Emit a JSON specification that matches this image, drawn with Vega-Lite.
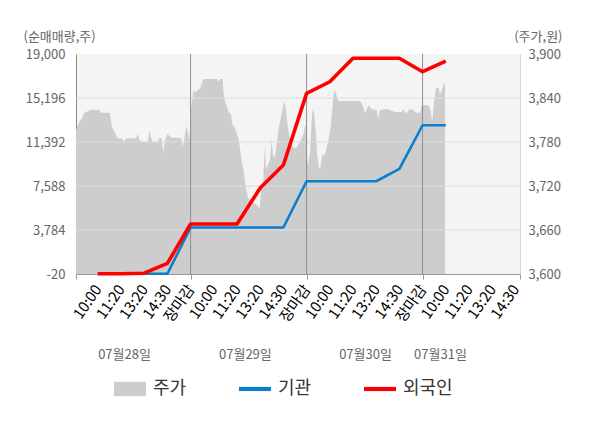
{
  "$schema": "https://vega.github.io/schema/vega-lite/v6.json",
  "width": 444,
  "height": 220,
  "autosize": {"type": "none"},
  "padding": {"left": 76, "top": 54, "right": 80, "bottom": 154},
  "background": "white",
  "config": {
    "font": "Noto Sans CJK KR",
    "view": {"fill": "#f4f4f4", "stroke": null}
  },
  "resolve": {"scale": {"y": "independent"}, "axis": {"x": "independent"}},
  "layer": [
    {
      "data": {
        "values": [
          {"s": 0.06, "p": 3796}, {"s": 0.20, "p": 3808}, {"s": 0.32, "p": 3812}, {"s": 0.42, "p": 3820},
          {"s": 0.71, "p": 3824}, {"s": 1.06, "p": 3824}, {"s": 1.14, "p": 3820}, {"s": 1.50, "p": 3820},
          {"s": 1.54, "p": 3814}, {"s": 1.61, "p": 3801}, {"s": 1.69, "p": 3795}, {"s": 1.78, "p": 3790},
          {"s": 1.86, "p": 3785}, {"s": 2.07, "p": 3784}, {"s": 2.14, "p": 3780}, {"s": 2.22, "p": 3785},
          {"s": 2.65, "p": 3785}, {"s": 2.72, "p": 3791}, {"s": 2.79, "p": 3783}, {"s": 2.94, "p": 3780},
          {"s": 3.15, "p": 3780}, {"s": 3.22, "p": 3795}, {"s": 3.29, "p": 3787}, {"s": 3.37, "p": 3780},
          {"s": 3.58, "p": 3780}, {"s": 3.65, "p": 3785}, {"s": 3.75, "p": 3785}, {"s": 3.82, "p": 3765},
          {"s": 3.90, "p": 3783}, {"s": 4.01, "p": 3791}, {"s": 4.16, "p": 3786}, {"s": 4.59, "p": 3785},
          {"s": 4.66, "p": 3774}, {"s": 4.73, "p": 3783}, {"s": 4.80, "p": 3800}, {"s": 4.88, "p": 3796},
          {"s": 4.94, "p": 3780},
          {"s": 5.02, "p": 3826}, {"s": 5.12, "p": 3850}, {"s": 5.23, "p": 3848}, {"s": 5.31, "p": 3851},
          {"s": 5.41, "p": 3853}, {"s": 5.52, "p": 3864}, {"s": 5.58, "p": 3866}, {"s": 6.13, "p": 3866},
          {"s": 6.19, "p": 3862}, {"s": 6.27, "p": 3866}, {"s": 6.38, "p": 3866}, {"s": 6.44, "p": 3842},
          {"s": 6.48, "p": 3835}, {"s": 6.56, "p": 3830}, {"s": 6.63, "p": 3821}, {"s": 6.73, "p": 3819},
          {"s": 6.81, "p": 3803}, {"s": 6.91, "p": 3799}, {"s": 7.06, "p": 3785}, {"s": 7.13, "p": 3771},
          {"s": 7.20, "p": 3755}, {"s": 7.27, "p": 3744}, {"s": 7.34, "p": 3726}, {"s": 7.42, "p": 3712},
          {"s": 7.49, "p": 3703}, {"s": 7.63, "p": 3699}, {"s": 7.78, "p": 3696}, {"s": 7.92, "p": 3692},
          {"s": 7.99, "p": 3690}, {"s": 8.03, "p": 3714}, {"s": 8.13, "p": 3728}, {"s": 8.21, "p": 3776},
          {"s": 8.25, "p": 3742}, {"s": 8.32, "p": 3749}, {"s": 8.42, "p": 3755}, {"s": 8.50, "p": 3783},
          {"s": 8.56, "p": 3760}, {"s": 8.64, "p": 3760}, {"s": 8.74, "p": 3785}, {"s": 8.82, "p": 3803},
          {"s": 8.93, "p": 3819}, {"s": 9.03, "p": 3836}, {"s": 9.11, "p": 3824}, {"s": 9.19, "p": 3801},
          {"s": 9.28, "p": 3785}, {"s": 9.35, "p": 3778}, {"s": 9.43, "p": 3773}, {"s": 9.54, "p": 3771},
          {"s": 9.64, "p": 3776}, {"s": 9.76, "p": 3783}, {"s": 9.86, "p": 3790}, {"s": 9.93, "p": 3801},
          {"s": 10.00, "p": 3803},
          {"s": 10.03, "p": 3755}, {"s": 10.07, "p": 3749}, {"s": 10.15, "p": 3765}, {"s": 10.22, "p": 3810},
          {"s": 10.26, "p": 3825}, {"s": 10.32, "p": 3819}, {"s": 10.36, "p": 3808}, {"s": 10.41, "p": 3787},
          {"s": 10.46, "p": 3762}, {"s": 10.53, "p": 3746}, {"s": 10.58, "p": 3742}, {"s": 10.62, "p": 3751},
          {"s": 10.69, "p": 3765}, {"s": 10.76, "p": 3760}, {"s": 10.84, "p": 3769}, {"s": 10.94, "p": 3783},
          {"s": 11.04, "p": 3801}, {"s": 11.13, "p": 3833}, {"s": 11.19, "p": 3851}, {"s": 11.27, "p": 3846},
          {"s": 11.37, "p": 3836}, {"s": 12.30, "p": 3836}, {"s": 12.37, "p": 3833}, {"s": 12.44, "p": 3828},
          {"s": 12.52, "p": 3819}, {"s": 12.59, "p": 3824}, {"s": 12.66, "p": 3830}, {"s": 12.76, "p": 3826},
          {"s": 12.87, "p": 3824}, {"s": 13.02, "p": 3824}, {"s": 13.09, "p": 3812}, {"s": 13.16, "p": 3824},
          {"s": 13.45, "p": 3825}, {"s": 13.81, "p": 3821}, {"s": 14.10, "p": 3821}, {"s": 14.17, "p": 3825},
          {"s": 14.28, "p": 3819}, {"s": 14.46, "p": 3825}, {"s": 14.60, "p": 3824}, {"s": 14.72, "p": 3819},
          {"s": 14.81, "p": 3821}, {"s": 14.89, "p": 3819},
          {"s": 14.96, "p": 3830}, {"s": 15.25, "p": 3830}, {"s": 15.32, "p": 3826}, {"s": 15.42, "p": 3808},
          {"s": 15.49, "p": 3833}, {"s": 15.58, "p": 3853}, {"s": 15.68, "p": 3855}, {"s": 15.75, "p": 3844},
          {"s": 15.82, "p": 3851}, {"s": 15.89, "p": 3856}, {"s": 15.94, "p": 3860}, {"s": 15.97, "p": 3860}
        ]
      },
      "mark": {"type": "area", "interpolate": "linear"},
      "encoding": {
        "x": {
          "field": "s",
          "type": "quantitative",
          "scale": {"domain": [0.06, 19.2], "nice": false, "zero": false},
          "axis": {
            "orient": "bottom",
            "values": [0.06, 1, 2, 3, 4, 5, 6, 7, 8, 9, 10, 11, 12, 13, 14, 15, 16, 17, 18, 19, 19.2],
            "labelExpr": "datum.value < 0.5 || datum.value > 19.1 ? '' : ['10:00','11:20','13:20','14:30','장마감'][(round(datum.value) - 1) % 5]",
            "labelAngle": -55,
            "labelAlign": "right",
            "labelBaseline": "middle",
            "labelFontSize": 15,
            "labelPadding": 7,
            "labelOverlap": false,
            "labelFlush": false,
            "tickSize": 5,
            "tickColor": "#999999",
            "tickOpacity": {"condition": {"test": "datum.value < 0.5 || datum.value > 19.1 || datum.value % 5 === 0", "value": 1}, "value": 0},
            "domainColor": "#999999",
            "grid": false,
            "title": null,
            "encode": {
              "labels": {
                "update": {
                  "fill": {"signal": "datum.value === 16 ? '#222222' : (datum.value % 5 === 0 ? '#ff0000' : '#666666')"}
                }
              }
            }
          }
        },
        "y": {
          "field": "p",
          "type": "quantitative",
          "scale": {"domain": [3600, 3900], "nice": false, "zero": false},
          "axis": {
            "orient": "right",
            "values": [3600, 3660, 3720, 3780, 3840, 3900],
            "labelExpr": "format(datum.value, ',')",
            "labelFontSize": 13,
            "labelColor": "#666666",
            "labelPadding": 8,
            "ticks": false,
            "domainColor": "#d6d6d6",
            "grid": false,
            "title": "(주가,원)",
            "titleAngle": 0,
            "titleAlign": "right",
            "titleBaseline": "alphabetic",
            "titleX": 42,
            "titleY": -14,
            "titleFontSize": 13,
            "titleFontWeight": "normal",
            "titleColor": "#666666"
          }
        },
        "y2": {"datum": 3600},
        "color": {
          "datum": "주가",
          "type": "nominal",
          "scale": {"domain": ["주가", "기관", "외국인"], "range": ["#cdcdcd", "#0a7fcd", "#ff0000"]}
        }
      }
    },
    {
      "resolve": {"axis": {"x": "independent"}},
      "layer": [
        {
          "data": {"values": [{"g": 3784}, {"g": 7588}, {"g": 11392}, {"g": 15196}]},
          "mark": {"type": "rule", "color": "#dcdcdc", "strokeWidth": 1},
          "encoding": {
            "y": {
              "field": "g",
              "type": "quantitative",
              "scale": {"domain": [-20, 19000], "nice": false, "zero": false},
              "axis": {
                "orient": "left",
                "values": [-20, 3784, 7588, 11392, 15196, 19000],
                "labelExpr": "datum.value < 0 ? '-' + format(-datum.value, ',') : format(datum.value, ',')",
                "labelFontSize": 13,
                "labelColor": "#666666",
                "labelPadding": 11,
                "ticks": false,
                "domainColor": "#888888",
                "grid": false,
                "title": "(순매매량,주)",
                "titleAngle": 0,
                "titleAlign": "left",
                "titleBaseline": "alphabetic",
                "titleX": -53,
                "titleY": -14,
                "titleFontSize": 13,
                "titleFontWeight": "normal",
                "titleColor": "#666666"
              }
            }
          }
        },
        {
          "data": {"values": [{"d": 5}, {"d": 10}, {"d": 15}]},
          "mark": {"type": "rule", "color": "#8f8f8f", "strokeWidth": 1},
          "encoding": {
            "x": {
              "field": "d",
              "type": "quantitative",
              "scale": {"domain": [0.06, 19.2], "nice": false, "zero": false},
              "axis": null
            }
          }
        },
        {
          "data": {
            "values": [
              {"s": 1, "series": "기관", "v": 0}, {"s": 2, "series": "기관", "v": 0},
              {"s": 3, "series": "기관", "v": 0}, {"s": 4, "series": "기관", "v": 0},
              {"s": 5, "series": "기관", "v": 4000}, {"s": 6, "series": "기관", "v": 4000},
              {"s": 7, "series": "기관", "v": 4000}, {"s": 8, "series": "기관", "v": 4000},
              {"s": 9, "series": "기관", "v": 4000}, {"s": 10, "series": "기관", "v": 8000},
              {"s": 11, "series": "기관", "v": 8000}, {"s": 12, "series": "기관", "v": 8000},
              {"s": 13, "series": "기관", "v": 8000}, {"s": 14, "series": "기관", "v": 9060},
              {"s": 15, "series": "기관", "v": 12840}, {"s": 16, "series": "기관", "v": 12840},
              {"s": 1, "series": "외국인", "v": 0}, {"s": 2, "series": "외국인", "v": 0},
              {"s": 3, "series": "외국인", "v": 50}, {"s": 4, "series": "외국인", "v": 900},
              {"s": 5, "series": "외국인", "v": 4300}, {"s": 6, "series": "외국인", "v": 4300},
              {"s": 7, "series": "외국인", "v": 4300}, {"s": 8, "series": "외국인", "v": 7420},
              {"s": 9, "series": "외국인", "v": 9400}, {"s": 10, "series": "외국인", "v": 15600},
              {"s": 11, "series": "외국인", "v": 16600}, {"s": 12, "series": "외국인", "v": 18630},
              {"s": 13, "series": "외국인", "v": 18630}, {"s": 14, "series": "외국인", "v": 18630},
              {"s": 15, "series": "외국인", "v": 17470}, {"s": 16, "series": "외국인", "v": 18390}
            ]
          },
          "mark": {"type": "line", "strokeJoin": "round"},
          "encoding": {
            "x": {
              "field": "s",
              "type": "quantitative",
              "scale": {"domain": [0.06, 19.2], "nice": false, "zero": false},
              "axis": {
                "orient": "bottom",
                "values": [2.13, 7.34, 12.52, 15.75],
                "labelExpr": "datum.value < 5 ? '07월28일' : datum.value < 10 ? '07월29일' : datum.value < 15 ? '07월30일' : '07월31일'",
                "labelAngle": 0,
                "labelAlign": "center",
                "labelBaseline": "middle",
                "labelPadding": 80,
                "labelFontSize": 13,
                "labelColor": "#666666",
                "labelOverlap": false,
                "labelFlush": false,
                "ticks": false,
                "domain": false,
                "grid": false,
                "title": null
              }
            },
            "y": {
              "field": "v",
              "type": "quantitative",
              "scale": {"domain": [-20, 19000], "nice": false, "zero": false},
              "axis": {
                "orient": "left",
                "values": [-20, 3784, 7588, 11392, 15196, 19000],
                "labelExpr": "datum.value < 0 ? '-' + format(-datum.value, ',') : format(datum.value, ',')",
                "labelFontSize": 13,
                "labelColor": "#666666",
                "labelPadding": 11,
                "ticks": false,
                "domainColor": "#888888",
                "grid": false,
                "title": "(순매매량,주)",
                "titleAngle": 0,
                "titleAlign": "left",
                "titleBaseline": "alphabetic",
                "titleX": -53,
                "titleY": -14,
                "titleFontSize": 13,
                "titleFontWeight": "normal",
                "titleColor": "#666666"
              }
            },
            "color": {
              "field": "series",
              "type": "nominal",
              "scale": {"domain": ["주가", "기관", "외국인"], "range": ["#cdcdcd", "#0a7fcd", "#ff0000"]},
              "legend": {
                "orient": "none",
                "legendX": 38,
                "legendY": 319,
                "direction": "horizontal",
                "title": null,
                "values": ["주가", "기관", "외국인"],
                "symbolSize": 1024,
                "labelFontSize": 18,
                "labelColor": "#333333",
                "labelOffset": 7,
                "columnPadding": 52,
                "encode": {
                  "symbols": {
                    "update": {
                      "shape": {"signal": "datum.value === '주가' ? 'M-1,-0.45H1V0.45H-1Z' : 'M-1,-0.13H1V0.13H-1Z'"},
                      "fill": {"signal": "scale('color', datum.value)"},
                      "stroke": {"value": "transparent"},
                      "strokeWidth": {"value": 0},
                      "opacity": {"value": 1},
                      "fillOpacity": {"value": 1}
                    }
                  }
                }
              }
            },
            "strokeWidth": {
              "field": "series",
              "type": "nominal",
              "scale": {"domain": ["기관", "외국인"], "range": [2.6, 3.6]},
              "legend": null
            }
          }
        }
      ]
    }
  ]
}
